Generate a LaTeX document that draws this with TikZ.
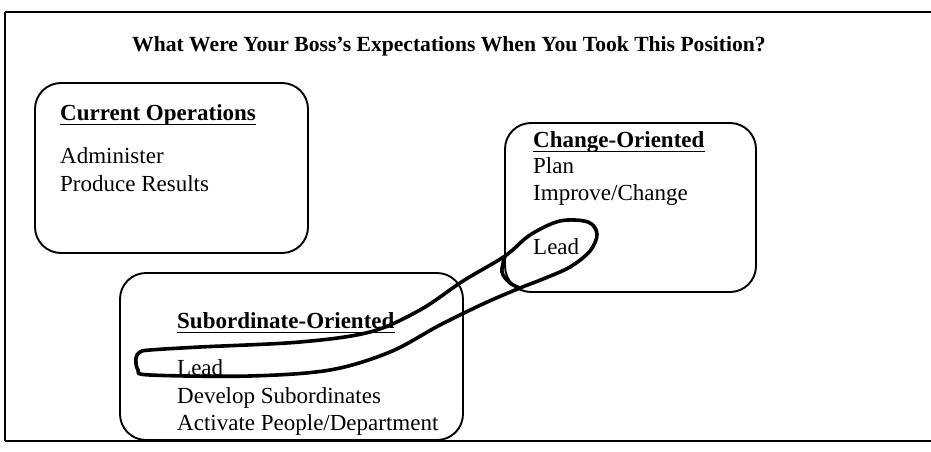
\documentclass[tikz,border=0pt]{standalone}
\usepackage{fontspec}
\setmainfont{Liberation Serif}
\begin{document}
\begin{tikzpicture}[x=1pt,y=-1pt,
  opbox/.style={draw=black, line width=1.9pt, rounded corners=26pt, inner sep=0pt},
  txt/.style={anchor=base west, inner sep=0pt, font=\fontsize{23}{27}\selectfont},
  head/.style={anchor=base west, inner sep=0pt, font=\fontsize{23}{27}\selectfont\bfseries},
  ulline/.style={line width=1.3pt},
  lasso/.style={line width=3.6pt, line join=round, line cap=round},
  frameline/.style={line width=1.5pt}]
\useasboundingbox (0,0) rectangle (931,452);
% frame (open on the right)
\coordinate (f1) at (5,12);
\coordinate (f2) at (931,12);
\coordinate (f3) at (5,441);
\coordinate (f4) at (931,441);
\draw[frameline] (f1) -- (f2);
\draw[frameline] (f1) -- (f3);
\draw[frameline] (f3) -- (f4);
% title
\node[anchor=base, inner sep=0pt, font=\fontsize{21.6}{25}\selectfont\bfseries] (title) at (449,52)
  {What Were Your Boss's Expectations When You Took This Position?};
% boxes
\node[opbox, minimum width=273pt, minimum height=170pt] (cur) at (171.5,168) {};
\node[opbox, minimum width=251pt, minimum height=169pt] (chg) at (630.5,207.5) {};
\node[opbox, minimum width=343pt, minimum height=167pt] (sub) at (291.5,356.5) {};
% current operations
\node[head] (curh) at (60,120) {Current Operations};
\node[txt] (cur1) at (60,163) {Administer};
\node[txt] (cur2) at (60,191) {Produce Results};
% change oriented
\node[head] (chgh) at (533,147) {Change-Oriented};
\node[txt] (chg1) at (533,173) {Plan};
\node[txt] (chg2) at (533,200) {Improve/Change};
\node[txt] (chg3) at (533,254) {Lead};
% subordinate oriented
\node[head] (subh) at (177,328) {Subordinate-Oriented};
\node[txt] (sub1) at (177,375) {Lead};
\node[txt] (sub2) at (177,403) {Develop Subordinates};
\node[txt] (sub3) at (177,430) {Activate People/Department};
% underlines
\draw[ulline] ([yshift=-4.5pt]curh.base west) -- ([yshift=-4.5pt]curh.base east);
\draw[ulline] ([yshift=-4.5pt]chgh.base west) -- ([yshift=-4.5pt]chgh.base east);
\draw[ulline] ([yshift=-4.5pt]subh.base west) -- ([yshift=-4.5pt]subh.base east);
% lasso
\draw[lasso] plot[smooth cycle, tension=0.55] coordinates {
  (150,350) (200,347) (300,342) (370,332) (420,310) (463,281) (505,256)
  (530,235) (560,221) (588,222) (597,234) (590,251) (570,267) (543,279)
  (520,288) (485,303) (440,325) (390,352) (330,370) (250,376)
  (150,375) (138,370) (136,358) (140,352)};
\draw[lasso] plot[smooth, tension=0.6] coordinates {(505,256) (502,272) (510,283) (520,288)};
\end{tikzpicture}
\end{document}
